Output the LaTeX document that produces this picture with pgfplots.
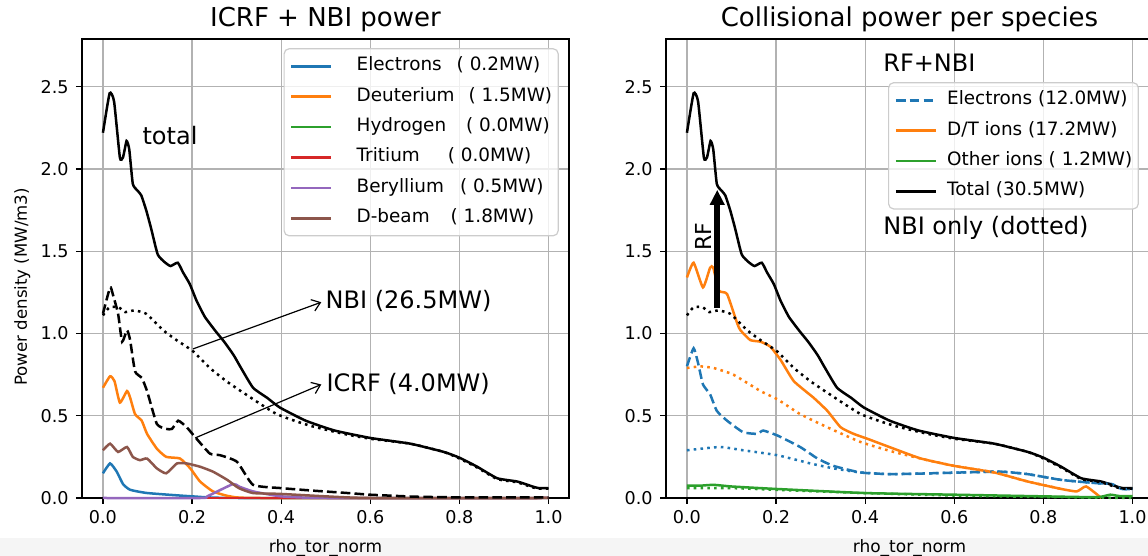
\documentclass[border=0pt]{standalone}
\usepackage{pgfplots}
\usepackage{pgfplotstable}
\pgfplotsset{compat=1.18}
\usepackage{fontspec}
\setmainfont{DejaVu Sans}
\usetikzlibrary{arrows.meta}

\definecolor{tabblue}{HTML}{1F77B4}
\definecolor{taborange}{HTML}{FF7F0E}
\definecolor{tabgreen}{HTML}{2CA02C}
\definecolor{tabred}{HTML}{D62728}
\definecolor{tabpurple}{HTML}{9467BD}
\definecolor{tabbrown}{HTML}{8C564B}

% ---------- data ----------
\pgfplotstableread{
x y
0.000 2.22
0.015 2.46
0.025 2.41
0.038 2.07
0.045 2.07
0.053 2.17
0.059 2.12
0.067 1.91
0.077 1.87
0.086 1.84
0.097 1.75
0.108 1.64
0.123 1.48
0.140 1.43
0.152 1.41
0.168 1.43
0.180 1.37
0.195 1.30
0.210 1.20
0.229 1.10
0.254 1.01
0.272 0.95
0.293 0.87
0.310 0.79
0.337 0.67
0.368 0.61
0.397 0.55
0.455 0.47
0.520 0.41
0.600 0.365
0.690 0.33
0.765 0.28
0.800 0.245
0.840 0.19
0.885 0.12
0.930 0.10
0.964 0.07
0.978 0.06
1.000 0.06
}\totaltab

\pgfplotstableread{
x y
0.000 1.11
0.015 1.16
0.035 1.16
0.050 1.13
0.070 1.14
0.097 1.12
0.135 1.02
0.165 0.96
0.203 0.89
0.240 0.79
0.277 0.71
0.315 0.64
0.390 0.51
0.464 0.44
0.540 0.39
0.600 0.36
0.690 0.33
0.765 0.28
0.800 0.24
0.840 0.185
0.885 0.115
0.930 0.095
0.964 0.065
0.978 0.057
1.000 0.057
}\nbitab

\pgfplotstableread{
x y
0.000 1.12
0.016 1.28
0.022 1.24
0.034 1.12
0.043 0.95
0.054 1.02
0.061 0.96
0.072 0.77
0.087 0.73
0.099 0.65
0.121 0.45
0.142 0.42
0.155 0.42
0.169 0.47
0.188 0.43
0.207 0.37
0.240 0.27
0.263 0.26
0.301 0.22
0.337 0.08
0.400 0.06
0.470 0.045
0.550 0.03
0.600 0.02
0.700 0.008
0.800 0.004
1.000 0.003
}\icrftab

\pgfplotstableread{
x y
0.000 0.67
0.016 0.74
0.026 0.71
0.038 0.58
0.054 0.65
0.061 0.61
0.072 0.51
0.087 0.47
0.099 0.39
0.121 0.30
0.142 0.25
0.173 0.24
0.196 0.18
0.218 0.10
0.247 0.04
0.285 0.01
0.350 0.0
1.000 0.0
}\deutab

\pgfplotstableread{
x y
0.000 0.29
0.016 0.33
0.034 0.28
0.054 0.31
0.067 0.25
0.083 0.23
0.099 0.24
0.121 0.18
0.142 0.15
0.166 0.21
0.188 0.21
0.218 0.19
0.247 0.16
0.279 0.11
0.305 0.06
0.337 0.03
0.397 0.025
0.500 0.01
0.600 0.0
1.000 0.0
}\dbeamtab

\pgfplotstableread{
x y
0.000 0.15
0.016 0.21
0.031 0.16
0.045 0.085
0.061 0.05
0.100 0.03
0.200 0.01
0.300 0.0
1.000 0.0
}\eltab

\pgfplotstableread{
x y
0.000 0.0
0.220 0.0
0.234 0.01
0.292 0.085
0.305 0.07
0.337 0.04
0.400 0.01
0.500 0.0
1.000 0.0
}\betab

\pgfplotstableread{
x y
0.000 0.0
1.000 0.0
}\zerotab

% right panel
\pgfplotstableread{
x y
0.000 1.34
0.015 1.43
0.036 1.28
0.052 1.40
0.059 1.40
0.072 1.26
0.090 1.24
0.113 1.06
0.120 1.02
0.142 0.96
0.165 0.95
0.187 0.92
0.210 0.84
0.240 0.71
0.284 0.61
0.315 0.53
0.345 0.43
0.374 0.39
0.405 0.36
0.464 0.30
0.525 0.24
0.600 0.195
0.690 0.155
0.765 0.10
0.840 0.055
0.875 0.04
0.896 0.07
0.930 0.0
}\dttab

\pgfplotstableread{
x y
0.000 0.79
0.030 0.80
0.060 0.79
0.104 0.75
0.165 0.65
0.203 0.60
0.254 0.51
0.315 0.43
0.390 0.34
0.464 0.28
0.540 0.23
0.600 0.195
0.690 0.155
0.765 0.10
0.840 0.055
}\dtnbitab

\pgfplotstableread{
x y
0.000 0.80
0.015 0.91
0.025 0.82
0.036 0.69
0.052 0.63
0.067 0.53
0.090 0.47
0.126 0.40
0.158 0.39
0.171 0.41
0.203 0.38
0.254 0.31
0.293 0.24
0.329 0.195
0.390 0.155
0.464 0.145
0.615 0.155
0.704 0.16
0.765 0.145
0.840 0.11
0.920 0.09
0.953 0.085
0.975 0.055
1.000 0.055
}\eltabr

\pgfplotstableread{
x y
0.000 0.29
0.074 0.31
0.126 0.29
0.203 0.26
0.277 0.21
0.329 0.18
0.390 0.155
0.464 0.145
0.615 0.155
0.704 0.16
0.765 0.145
0.840 0.11
0.920 0.09
0.953 0.085
0.975 0.055
1.000 0.055
}\elnbitab

\pgfplotstableread{
x y
0.000 0.075
0.030 0.075
0.060 0.08
0.100 0.07
0.200 0.055
0.400 0.03
0.600 0.02
0.800 0.01
0.920 0.005
0.950 0.02
0.970 0.012
1.000 0.012
}\othtab

\pgfplotstableread{
x y
0.000 0.06
0.100 0.06
0.200 0.05
0.400 0.03
0.600 0.015
0.800 0.006
1.000 0.0
}\othnbitab

\pgfplotsset{
  panel/.style={
    scale only axis, width=243.5pt, height=229.5pt,
    xmin=-0.047, xmax=1.046, ymin=0, ymax=2.79,
    xtick={0,0.2,0.4,0.6,0.8,1},
    ytick={0,0.5,1,1.5,2,2.5},
    xtick pos=bottom, ytick pos=left,
    tick align=outside, major tick length=3pt,
    tick style={black, line width=0.6pt},
    axis line style={line width=0.7pt},
    grid=major, grid style={color=black!30, line width=0.6pt},
    /pgf/number format/.cd, fixed, fixed zerofill, precision=1, assume math mode=true,
    /pgfplots/.cd,
    xticklabel style={font=\fontsize{8.8}{10}\selectfont, inner sep=0pt, anchor=north, yshift=-3pt},
    yticklabel style={font=\fontsize{8.8}{10}\selectfont, inner sep=0pt, anchor=east, xshift=-3.5pt},
    xlabel style={font=\fontsize{8.5}{10}\selectfont, at={(axis description cs:0.5,0)}, anchor=base, yshift=-27.5pt, inner sep=0pt},
    title style={font=\fontsize{13}{15}\selectfont, at={(axis description cs:0.5,1)}, anchor=base, inner sep=0pt},
    clip=false,
    legend cell align=left,
    legend image code/.code={\draw[##1, line width=1.3pt] (0pt,0pt) -- (20pt,0pt); \path (25pt,0pt);},
    legend style={draw=black!20, line width=0.6pt, rounded corners=2.5pt,
      fill=white, fill opacity=0.8, text opacity=1, draw opacity=1,
      font=\fontsize{9.2}{11}\selectfont, inner xsep=3pt, inner ysep=4pt,
      row sep=5.7pt, nodes={inner sep=0pt, text height=7pt, text depth=2.5pt}},
    every axis plot/.append style={line width=1.25pt, smooth, tension=0.3},
  },
}

\tikzset{
  dsh/.style={dash pattern=on 4.8pt off 2.1pt},
  dts/.style={dash pattern=on 1.3pt off 2.1pt},
  ann/.style={font=\fontsize{12}{14}\selectfont, inner sep=0pt},
}

\begin{document}
\begin{tikzpicture}
\fill[black!4] (-41pt,-29pt) rectangle (533pt,-20pt);

\begin{axis}[panel, at={(0pt,0pt)}, anchor=south west,
  title={ICRF + NBI power},
  xlabel={rho\_tor\_norm},
  ylabel={Power density (MW/m3)},
  ylabel style={font=\fontsize{8.3}{10}\selectfont, at={([xshift=-27.5pt]axis description cs:0,0.46)}, anchor=base, inner sep=0pt},
  legend style={at={(axis description cs:0.979,0.980)}, anchor=north east},
]
\addplot[tabblue] table {\eltab};
\addlegendentry{\hspace{7pt}Electrons\hspace{7.5pt}( 0.2MW)}
\addplot[taborange] table {\deutab};
\addlegendentry{\hspace{7pt}Deuterium\hspace{7pt}( 1.5MW)}
\addplot[tabgreen] table {\zerotab};
\addlegendentry{\hspace{7pt}Hydrogen\hspace{10pt}( 0.0MW)}
\addplot[tabred] table {\zerotab};
\addlegendentry{\hspace{7pt}Tritium\hspace{14pt}( 0.0MW)}
\addplot[tabpurple] table {\betab};
\addlegendentry{\hspace{7pt}Beryllium\hspace{8pt}( 0.5MW)}
\addplot[tabbrown] table {\dbeamtab};
\addlegendentry{\hspace{7pt}D-beam\hspace{10.5pt}( 1.8MW)}
\addplot[black, forget plot] table {\totaltab};
\addplot[black, dsh, forget plot] table {\icrftab};
\addplot[black, dts, forget plot] table {\nbitab};

\node[ann, anchor=base west] at (axis cs:0.088,2.147) {total};
\node[ann, anchor=base west] at (axis cs:0.499,1.15) {NBI (26.5MW)};
\node[ann, anchor=base west] at (axis cs:0.501,0.65) {ICRF (4.0MW)};
\draw[-{Straight Barb[length=4pt,width=6pt]}, line width=0.6pt] (axis cs:0.202,0.906) -- (axis cs:0.49,1.19);
\draw[-{Straight Barb[length=4pt,width=6pt]}, line width=0.6pt] (axis cs:0.207,0.365) -- (axis cs:0.49,0.69);
\end{axis}

\begin{axis}[panel, at={(292pt,0pt)}, anchor=south west,
  title={Collisional power per species},
  xlabel={rho\_tor\_norm},
  legend style={at={(axis description cs:0.971,0.906)}, anchor=north east},
]
\addplot[tabblue, dsh] table {\eltabr};
\addlegendentry{Electrons (12.0MW)}
\addplot[taborange] table {\dttab};
\addlegendentry{D/T ions (17.2MW)}
\addplot[tabgreen] table {\othtab};
\addlegendentry{Other ions ( 1.2MW)}
\addplot[black] table {\totaltab};
\addlegendentry{Total (30.5MW)}
\addplot[tabblue, dts, forget plot] table {\elnbitab};
\addplot[taborange, dts, forget plot] table {\dtnbitab};
\addplot[tabgreen, dts, forget plot] table {\othnbitab};
\addplot[black, dts, forget plot] table {\nbitab};

\draw[-{Triangle[length=7.5pt,width=7pt]}, line width=3pt] (axis cs:0.068,1.156) -- (axis cs:0.068,1.873);
\node[ann, anchor=base west, rotate=90, font=\fontsize{11}{13}\selectfont] at (axis cs:0.054,1.50) {RF};
\node[ann, anchor=base west] at (axis cs:0.44,2.59) {RF+NBI};
\node[ann, anchor=base west] at (axis cs:0.44,1.60) {NBI only (dotted)};
\end{axis}

\pgfresetboundingbox
\useasboundingbox (-41pt,-29pt) rectangle (533pt,249pt);
\end{tikzpicture}
\end{document}
